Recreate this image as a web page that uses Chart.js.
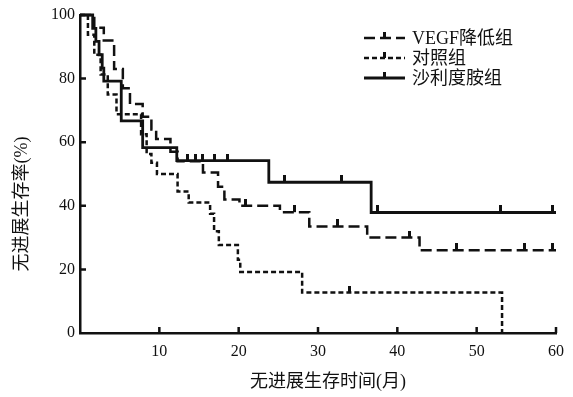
<!DOCTYPE html>
<html>
<head>
<meta charset="utf-8">
<script src="https://cdn.jsdelivr.net/npm/chart.js@4.4.1/dist/chart.umd.min.js"></script>
<style>
  html, body { margin: 0; padding: 0; background: #fff; }
</style>
</head>
<body>
<canvas id="km" width="573" height="397"></canvas>
<script>
// ===============================
// Data
// ===============================
const groupNames = ["VEGF降低组", "对照组", "沙利度胺组"];
const xTitle = "无进展生存时间(月)";
const yTitle = "无进展生存率(%)";
const xTicks = [0, 10, 20, 30, 40, 50, 60];
const yTicks = [0, 20, 40, 60, 80, 100];

// VEGF降低组 - step times (months) and survival (%)
const vegfT = [0, 1.8, 3.0, 4.3, 5.4, 6.3, 7.9, 9.0, 9.6, 11.4, 12.3, 15.5, 17.4, 18.2, 20.1, 25.2, 28.9, 36.2, 42.8, 60];
const vegfS = [100, 96, 92, 83, 77, 72, 68, 64, 61, 57, 54, 50.5, 46, 42, 40, 38, 33.5, 30, 26, 26];
const vegfCensT = [20.8, 27.0, 32.5, 41.5, 47.5, 56.0, 59.5];
const vegfCensS = [40, 38, 33.5, 30, 26, 26, 26];

// 对照组
const ctrlT = [0, 1.0, 1.8, 2.6, 3.5, 4.6, 7.7, 8.4, 9.0, 9.7, 12.3, 13.7, 16.4, 16.9, 17.5, 19.9, 20.2, 28.0, 53.2];
const ctrlS = [100, 93.8, 87.5, 81.3, 75, 68.8, 62.5, 56.3, 53.5, 50, 44.5, 41, 37.5, 32, 27.7, 23, 19.2, 12.7, 0];
const ctrlCensT = [34.0];
const ctrlCensS = [12.7];

// 沙利度胺组
const thalT = [0, 1.6, 2.0, 2.4, 2.8, 3.0, 5.2, 7.9, 12.2, 23.8, 36.7, 60];
const thalS = [100, 95.8, 91.7, 87.5, 83.3, 79.2, 66.7, 58.3, 54.2, 47.4, 37.9, 37.9];
const thalCensT = [13.5, 14.5, 15.5, 17.0, 18.6, 25.8, 33.0, 37.5, 53.0, 59.5];
const thalCensS = [54.2, 54.2, 54.2, 54.2, 54.2, 47.4, 47.4, 37.9, 37.9, 37.9];

// ===============================
// Helpers
// ===============================
const INK = "#111";
const SERIF = '"Liberation Serif", "Noto Sans CJK SC", serif';
const toPts = (ts, ss) => ts.map((t, i) => ({ x: t, y: ss[i] }));

// censor mark: short upward tick
function tickMark() {
  const c = document.createElement("canvas");
  c.width = 3; c.height = 14;
  const g = c.getContext("2d");
  g.fillStyle = INK;
  g.fillRect(0, 0, 3, 7);
  return c;
}
const censor = tickMark();

const dashes = [[11, 5], [5, 3], []];

function stepSet(ts, ss, dash, width) {
  return {
    data: toPts(ts, ss),
    showLine: true,
    stepped: "before",
    borderColor: INK,
    borderWidth: width,
    borderDash: dash,
    pointRadius: 0,
    fill: false,
    clip: 4
  };
}
function censSet(ts, ss) {
  return {
    data: toPts(ts, ss),
    showLine: false,
    pointStyle: censor,
    pointRadius: 4,
    clip: 8
  };
}

// inward axis ticks, titles and legend
const decor = {
  id: "decor",
  afterDraw(chart) {
    const ctx = chart.ctx;
    const xs = chart.scales.x, ys = chart.scales.y;
    ctx.save();
    ctx.strokeStyle = INK;
    ctx.lineWidth = 2.5;
    ctx.beginPath();
    xTicks.forEach(v => {
      if (v === 0) return;
      const px = xs.getPixelForValue(v);
      ctx.moveTo(px, ys.bottom);
      ctx.lineTo(px, ys.bottom - 6);
    });
    yTicks.forEach(v => {
      if (v === 0 || v === 100) return;
      const py = ys.getPixelForValue(v);
      ctx.moveTo(xs.left, py);
      ctx.lineTo(xs.left + 6, py);
    });
    ctx.stroke();

    // axis titles
    ctx.fillStyle = INK;
    ctx.font = "18px " + SERIF;
    ctx.textAlign = "center";
    ctx.textBaseline = "middle";
    ctx.fillText(xTitle, 328, 382);
    ctx.save();
    ctx.translate(22, 204);
    ctx.rotate(-Math.PI / 2);
    ctx.fillText(yTitle, 0, 0);
    ctx.restore();

    // legend
    const rows = [38, 58, 78];
    ctx.textAlign = "left";
    groupNames.forEach((name, i) => {
      const y = rows[i];
      ctx.setLineDash(dashes[i]);
      ctx.lineWidth = i === 2 ? 2.8 : 2.5;
      ctx.beginPath();
      ctx.moveTo(364, y);
      ctx.lineTo(405, y);
      ctx.stroke();
      ctx.setLineDash([]);
      ctx.fillRect(383, y - 6, 3, 6);
      ctx.fillText(name, 412, y + 1);
    });
    ctx.restore();
  }
};

new Chart(document.getElementById("km"), {
  type: "scatter",
  data: {
    datasets: [
      stepSet(vegfT, vegfS, dashes[0], 2.5),
      stepSet(ctrlT, ctrlS, dashes[1], 2.5),
      stepSet(thalT, thalS, dashes[2], 2.8),
      censSet(vegfCensT, vegfCensS),
      censSet(ctrlCensT, ctrlCensS),
      censSet(thalCensT, thalCensS)
    ]
  },
  options: {
    responsive: false,
    animation: false,
    events: [],
    layout: { padding: { top: 15, right: 16, left: 0, bottom: 0 } },
    plugins: {
      legend: { display: false },
      tooltip: { enabled: false }
    },
    scales: {
      x: {
        type: "linear",
        min: 0,
        max: 60,
        afterBuildTicks: s => { s.ticks = xTicks.map(v => ({ value: v })); },
        afterFit: s => { s.height = 64; },
        grid: { display: false, drawTicks: false },
        border: { display: true, width: 2.5, color: INK },
        ticks: {
          padding: 9,
          color: INK,
          font: { family: SERIF, size: 16 },
          callback: v => (v === 0 ? "" : v)
        }
      },
      y: {
        min: 0,
        max: 100,
        afterBuildTicks: s => { s.ticks = yTicks.map(v => ({ value: v })); },
        afterFit: s => { s.width = 80; },
        grid: { display: false, drawTicks: false },
        border: { display: true, width: 2.5, color: INK },
        ticks: {
          padding: 5,
          color: INK,
          font: { family: SERIF, size: 16 }
        }
      }
    }
  },
  plugins: [decor]
});
</script>
</body>
</html>
